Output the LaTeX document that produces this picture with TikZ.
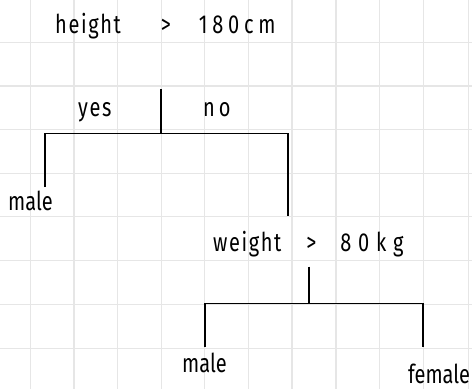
\documentclass[tikz,border=0pt]{standalone}
\usepackage{fontspec}
\setmainfont{Fira Sans}
\definecolor{gridgray}{HTML}{E6E6E6}
\newcommand{\tallhand}[1]{\scalebox{1}[1.3]{#1}}
\newcommand{\wide}[2]{{\addfontfeature{LetterSpace=#1}#2}}
\begin{document}
\begin{tikzpicture}[x=1pt,y=-1pt,
  gridline/.style={draw=gridgray, line width=1.3pt},
  branch/.style={draw=black, line width=1.8pt, line join=miter},
  hand/.style={inner sep=0pt, anchor=base west, font=\fontsize{20}{24}\selectfont}]
\useasboundingbox[fill=white] (0,0) rectangle (472,389);
% grid
\foreach \gx in {30.7,74,117.3,161.3,204.7,248.7,292,336,379.3,423.3,468.7}
  \draw[gridline] (\gx,0) -- (\gx,389);
\foreach \gy in {42.3,86,129.3,173.3,216.7,260.7,304.3,348.3}
  \draw[gridline] (0,\gy) -- (472,\gy);
% texts
\node[hand] (root) at (55,33) {\tallhand{\wide{8}{height}\hspace{40pt}>\hspace{28pt}\wide{24}{180cm}}};
\node[hand] (yes) at (78,116) {\tallhand{\wide{8}{yes}}};
\node[hand] (no) at (203,116) {\tallhand{\wide{20}{no}}};
\node[hand] (maleA) at (8,210) {\tallhand{male}};
\node[hand] (weight) at (213,251) {\tallhand{\wide{8}{weight}\hspace{25pt}>\hspace{24pt}\wide{34}{80kg}}};
\node[hand] (maleB) at (182,372) {\tallhand{male}};
\node[hand] (female) at (408,383) {\tallhand{female}};
% tree coordinates
\coordinate (s1) at (161.3,89);
\coordinate (j1) at (161.3,133.5);
\coordinate (bl) at (45,133.5);
\coordinate (br) at (287.7,133.5);
\coordinate (el) at (45,187);
\coordinate (er) at (287.7,216);
\coordinate (s2) at (309.3,266.7);
\coordinate (j2) at (309.3,303.5);
\coordinate (cl) at (205.3,303.5);
\coordinate (cr) at (422.7,303.5);
\coordinate (dl) at (205.3,347);
\coordinate (dr) at (422.7,347.3);
\draw[branch] (s1) -- (j1);
\draw[branch] (el) -- (bl) -- (br) -- (er);
\draw[branch] (s2) -- (j2);
\draw[branch] (dl) -- (cl) -- (cr) -- (dr);
\end{tikzpicture}
\end{document}
